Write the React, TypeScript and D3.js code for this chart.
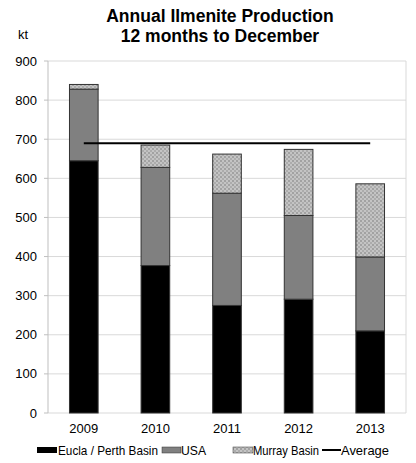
import * as d3 from 'd3';

const years = ['2009', '2010', '2011', '2012', '2013'];
const eucla = [645, 377, 275, 291, 210];
const usa = [183, 251, 287, 214, 189];
const murray = [12, 57, 100, 169, 187];
const yTicks = [0, 100, 200, 300, 400, 500, 600, 700, 800, 900];

const W = 416;
const H = 463;
const margin = { left: 48, right: 10, top: 61, bottom: 50 };

export default function App() {
  const x = d3
    .scaleBand<string>()
    .domain(years)
    .range([margin.left, W - margin.right])
    .paddingInner(0.6)
    .paddingOuter(0.3);
  const y = d3.scaleLinear().domain([0, 900]).range([H - margin.bottom, margin.top]);

  const rows = years.map((yr, i) => ({ yr, eucla: eucla[i], usa: usa[i], murray: murray[i] }));
  const stack = d3.stack<any>().keys(['eucla', 'usa', 'murray'])(rows);
  const fills = ['#000000', '#808080', 'url(#murrayPat)'];

  const totals = years.map((_, i) => eucla[i] + usa[i] + murray[i]);
  const avg = d3.mean(totals) as number;

  const font = 'Liberation Sans, Arial, sans-serif';
  const left = margin.left;
  const right = W - margin.right;

  return (
    <svg
      width={W}
      height={H}
      style={{ position: 'absolute', left: 0, top: 0, background: '#fff' }}
      fontFamily={font}
    >
      <defs>
        <pattern id="murrayPat" width="4" height="4" patternUnits="userSpaceOnUse">
          <rect width="4" height="4" fill="#c4c4c4" />
          <rect width="2" height="2" fill="#a2a2a2" />
          <rect x="2" y="2" width="2" height="2" fill="#acacac" />
        </pattern>
      </defs>

      <text x={220} y={22} textAnchor="middle" fontSize={17.5} fontWeight="bold" fill="#000">
        Annual Ilmenite Production
      </text>
      <text x={220} y={42} textAnchor="middle" fontSize={17.5} fontWeight="bold" fill="#000">
        12 months to December
      </text>
      <text x={18} y={39} fontSize={13} fill="#000">
        kt
      </text>

      {yTicks.map(t => (
        <g key={t}>
          <line x1={left} x2={right} y1={y(t)} y2={y(t)} stroke="#d9d9d9" strokeWidth={1} />
          <line x1={left - 4} x2={left} y1={y(t)} y2={y(t)} stroke="#bfbfbf" />
          <text x={37} y={y(t) + 4.5} textAnchor="end" fontSize={13} fill="#000">
            {t}
          </text>
        </g>
      ))}
      <line x1={left} x2={left} y1={y(900)} y2={y(0)} stroke="#bfbfbf" />
      <line x1={right} x2={right} y1={y(900)} y2={y(0)} stroke="#d9d9d9" />

      {stack.map((layer, li) =>
        layer.map((d, i) => (
          <rect
            key={`${li}-${i}`}
            x={x(years[i])}
            width={x.bandwidth()}
            y={y(d[1])}
            height={y(d[0]) - y(d[1])}
            fill={fills[li]}
            stroke="#333"
            strokeWidth={1}
          />
        ))
      )}

      <line
        x1={(x(years[0]) as number) + x.bandwidth() / 2}
        x2={(x(years[years.length - 1]) as number) + x.bandwidth() / 2}
        y1={y(avg)}
        y2={y(avg)}
        stroke="#000"
        strokeWidth={2}
      />

      {years.map(yr => (
        <text
          key={yr}
          x={(x(yr) as number) + x.bandwidth() / 2}
          y={433}
          textAnchor="middle"
          fontSize={13}
          fill="#000"
        >
          {yr}
        </text>
      ))}

      <g fontSize={12.2} fill="#000">
        <rect x={37} y={447} width={20} height={6} fill="#000" />
        <text x={58} y={455} textLength={100} lengthAdjust="spacingAndGlyphs">Eucla / Perth Basin</text>
        <rect x={162} y={447} width={19} height={6} fill="#808080" stroke="#333" strokeWidth={0.5} />
        <text x={181} y={455}>USA</text>
        <rect x={233} y={447} width={20} height={6} fill="url(#murrayPat)" stroke="#333" strokeWidth={0.5} />
        <text x={253} y={455} textLength={66} lengthAdjust="spacingAndGlyphs">Murray Basin</text>
        <line x1={322} x2={341} y1={450} y2={450} stroke="#000" strokeWidth={2} />
        <text x={341} y={455} textLength={48} lengthAdjust="spacingAndGlyphs">Average</text>
      </g>
    </svg>
  );
}
